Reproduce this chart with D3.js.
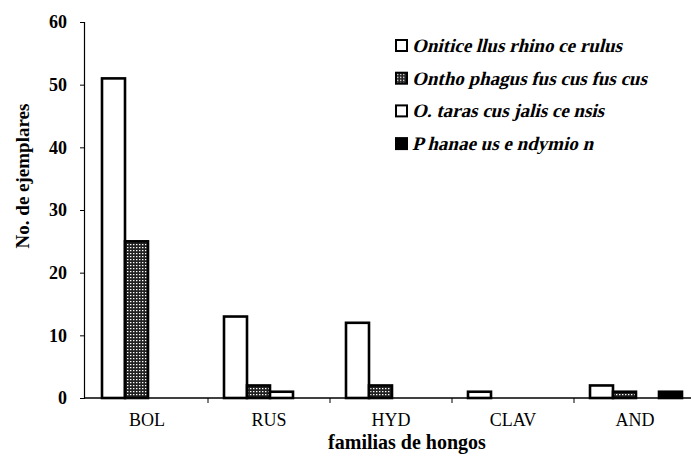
<!DOCTYPE html>
<html>
<head>
<meta charset="utf-8">
<script src="https://cdn.jsdelivr.net/npm/d3@7"></script>
<style>
  body { margin: 0; background: #fff; }
  svg { display: block; }
  svg text { font-family: "Liberation Serif", "DejaVu Serif", serif; }
</style>
</head>
<body>
<div id="chart"></div>
<script>
// data
const familias = ["BOL", "RUS", "HYD", "CLAV", "AND"];
const especies = ["Onitice llus rhino ce rulus", "Ontho phagus fus cus fus cus", "O. taras cus jalis ce nsis", "P hanae us e ndymio n"];
const onitRhino  = [51, 13, 12, 1, 2];
const onthoFuscus = [25, 2, 2, 0, 1];
const oTarascus  = [0, 1, 0, 0, 0];
const phanaeus   = [0, 0, 0, 0, 1];
const yTicks = [0, 10, 20, 30, 40, 50, 60];

const series = [onitRhino, onthoFuscus, oTarascus, phanaeus];
const fills = ["#fff", "url(#hatch)", "#fff", "#000"];

const W = 691, H = 457;
const svg = d3.select("#chart").append("svg")
    .attr("width", W).attr("height", H);

// dense grid pattern for the second species
const pat = svg.append("defs").append("pattern")
    .attr("id", "hatch")
    .attr("patternUnits", "userSpaceOnUse")
    .attr("width", 3).attr("height", 3);
pat.append("rect").attr("width", 3).attr("height", 3).attr("fill", "#222");
pat.append("rect").attr("x", 1).attr("y", 1).attr("width", 1.4).attr("height", 1.2).attr("fill", "#fff");

const x0 = d3.scaleBand()
    .domain(familias)
    .range([86, 696]);
const x1 = d3.scaleBand()
    .domain(d3.range(series.length))
    .range([16, 16 + 4 * 23]);
const y = d3.scaleLinear()
    .domain([0, 60])
    .range([398, 22]);

// bars
familias.forEach((f, i) => {
    series.forEach((s, j) => {
        if (s[i] === 0) return;
        svg.append("rect")
            .attr("x", x0(f) + x1(j))
            .attr("y", y(s[i]))
            .attr("width", x1.bandwidth())
            .attr("height", y(0) - y(s[i]))
            .attr("fill", fills[j])
            .attr("stroke", "#000")
            .attr("stroke-width", 2.6);
    });
});

// y axis
const yAxis = svg.append("g")
    .attr("transform", "translate(84,0)")
    .call(d3.axisLeft(y).tickValues(yTicks).tickSize(4).tickPadding(13));
yAxis.select(".domain").attr("stroke", "#000").attr("stroke-width", 1.2);
yAxis.selectAll("text")
    .attr("font-family", "Liberation Serif")
    .attr("font-size", 18)
    .attr("font-weight", "bold")
    .attr("fill", "#000");

// x axis: ticks between the categories
const xAxis = svg.append("g")
    .attr("transform", "translate(0,398)");
xAxis.append("line")
    .attr("x1", 84).attr("x2", W)
    .attr("stroke", "#000").attr("stroke-width", 1.4);
xAxis.selectAll(".sep")
    .data(familias.slice(1))
    .enter().append("line")
    .attr("x1", d => x0(d)).attr("x2", d => x0(d))
    .attr("y1", 0).attr("y2", 5)
    .attr("stroke", "#000");
xAxis.selectAll(".lab")
    .data(familias)
    .enter().append("text")
    .attr("x", d => x0(d) + x0.bandwidth() / 2)
    .attr("y", 28)
    .attr("text-anchor", "middle")
    .attr("font-size", 18)
    .text(d => d);

// axis titles
svg.append("text")
    .attr("x", 407).attr("y", 449)
    .attr("text-anchor", "middle")
    .attr("font-size", 20)
    .attr("font-weight", "bold")
    .text("familias de hongos");

svg.append("text")
    .attr("transform", "translate(29,176) rotate(-90)")
    .attr("text-anchor", "middle")
    .attr("font-size", 19)
    .attr("font-weight", "bold")
    .text("No. de ejemplares");

// legend (serif italic faked with a skew, no serif italic face here)
const legend = svg.append("g")
    .attr("transform", "translate(396,40)");
especies.forEach((name, j) => {
    const g = legend.append("g").attr("transform", `translate(0,${j * 32.7})`);
    g.append("rect")
        .attr("width", 11).attr("height", 11)
        .attr("fill", fills[j])
        .attr("stroke", "#000").attr("stroke-width", 2);
    g.append("text")
        .attr("transform", "translate(16,12) skewX(-14)")
        .attr("font-size", 19)
        .attr("font-weight", "bold")
        .text(name);
});
</script>
</body>
</html>
